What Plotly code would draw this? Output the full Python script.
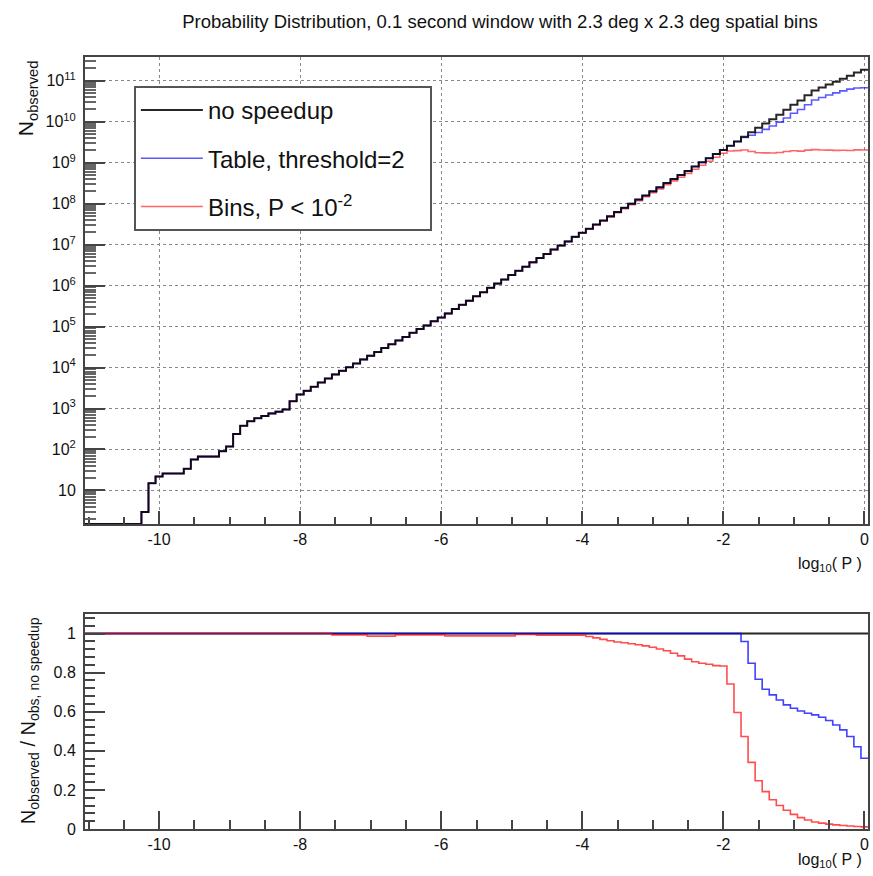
import numpy as np
import plotly.graph_objects as go

# ---------------- data ----------------
bin_width = 0.1
bin_centers = np.round(np.linspace(-11.0, 0.0, 111), 1)   # log10(P) bin centres

# N observed, "no speedup" (one value per bin, -11.0 ... 0.0)
no_speedup_counts = [
    0, 0, 0, 0, 0, 0, 0, 0,                      # -11.0 .. -10.3
    3, 15, 22, 26, 26, 26, 34, 57, 67, 67,        # -10.2 .. -9.3
    67, 91, 118, 240, 380, 490, 580, 660, 760, 840,   # -9.2 .. -8.3
    950, 1500, 2200, 2700, 3400, 4300,            # -8.2 .. -7.7
    5.4e3, 6.8e3, 8.3e3, 1.02e4, 1.26e4, 1.58e4, 1.95e4,            # -7.6 .. -7.0
    2.4e4, 3.0e4, 3.7e4, 4.6e4, 5.6e4, 7.1e4, 8.7e4, 1.07e5, 1.35e5, 1.66e5,   # -6.9 .. -6.0
    2.1e5, 2.7e5, 3.4e5, 4.3e5, 5.5e5, 6.9e5, 8.9e5, 1.12e6, 1.41e6, 1.82e6,   # -5.9 .. -5.0
    2.3e6, 2.9e6, 3.7e6, 4.7e6, 5.9e6, 7.6e6, 9.5e6, 1.2e7, 1.55e7, 1.95e7,    # -4.9 .. -4.0
    2.45e7, 3.1e7, 3.9e7, 4.9e7, 6.3e7, 7.9e7, 1.0e8, 1.26e8, 1.58e8, 2.0e8,   # -3.9 .. -3.0
    2.5e8, 3.2e8, 4.0e8, 5.0e8, 6.3e8, 8.1e8, 1.02e9, 1.29e9, 1.62e9, 2.04e9,  # -2.9 .. -2.0
    2.6e9, 3.3e9, 4.3e9, 5.5e9, 7.1e9, 9.1e9, 1.15e10, 1.48e10, 1.95e10, 2.6e10,   # -1.9 .. -1.0
    3.3e10, 4.4e10, 5.8e10, 6.8e10, 8.1e10, 9.5e10, 1.12e11, 1.32e11, 1.58e11, 1.86e11,  # -0.9 .. 0.0
]

# N observed / N obs, no speedup  -- "Table, threshold=2"
table_ratio = [1.0] * 93 + [                     # -11.0 .. -1.8
    0.959, 0.848, 0.766, 0.715, 0.686, 0.660, 0.635, 0.618, 0.604,   # -1.7 .. -0.9
    0.592, 0.584, 0.572, 0.555, 0.532, 0.507, 0.473, 0.421, 0.362,   # -0.8 .. 0.0
]

# N observed / N obs, no speedup  -- "Bins, P < 1e-2"
bins_ratio = (
    [1.0] * 35                                   # -11.0 .. -7.6
    + [0.993, 0.993, 0.993, 0.993, 0.993]        # -7.5 .. -7.1
    + [0.987, 0.987, 0.987, 0.987]               # -7.0 .. -6.7
    + [0.993, 0.993, 0.993, 0.993, 0.993, 0.993, 0.993]   # -6.6 .. -6.0
    + [0.988, 0.988, 0.988, 0.988, 0.988, 0.988, 0.988, 0.988, 0.988, 0.988]  # -5.9 .. -5.0
    + [0.995, 0.995, 0.995]                      # -4.9 .. -4.7
    + [0.992, 0.992, 0.992, 0.992, 0.992, 0.992, 0.992]   # -4.6 .. -4.0
    + [0.985, 0.978, 0.970, 0.963, 0.957, 0.953, 0.948, 0.943, 0.937, 0.930]  # -3.9 .. -3.0
    + [0.921, 0.912, 0.899, 0.886, 0.869, 0.856, 0.848, 0.843, 0.836, 0.834]  # -2.9 .. -2.0
    + [0.742, 0.596, 0.473, 0.341, 0.247, 0.191, 0.150, 0.120, 0.096, 0.075]  # -1.9 .. -1.0
    + [0.058, 0.046, 0.036, 0.030, 0.025, 0.021, 0.018, 0.015, 0.013, 0.011]  # -0.9 .. 0.0
)

series_names = ["no speedup", "Table, threshold=2&nbsp;&nbsp;&nbsp;", "Bins, P &lt; 10<sup>-2</sup>"]

x_tick_vals = [-10, -8, -6, -4, -2, 0]
x_tick_text = ["-10", "-8", "-6", "-4", "-2", "0"]
y_tick_vals = [1e1, 1e2, 1e3, 1e4, 1e5, 1e6, 1e7, 1e8, 1e9, 1e10, 1e11]
y_tick_text = ["10"] + ["10<sup>%d</sup>" % k for k in range(2, 12)]
r_tick_vals = [0, 0.2, 0.4, 0.6, 0.8, 1]
r_tick_text = ["0", "0.2", "0.4", "0.6", "0.8", "1"]

# ---------------- derived ----------------
black = np.array(no_speedup_counts, dtype=float)
table = black * np.array(table_ratio)
bins = black * np.array(bins_ratio)
unit_ratio = np.ones_like(black)

Y_LOG_RANGE = [0.18, 11.58]
X_RANGE = [bin_centers[0] - bin_width / 2, bin_centers[-1] + bin_width / 2]

edges = np.append(bin_centers - bin_width / 2, bin_centers[-1] + bin_width / 2)


def step(v):
    return np.append(v, v[-1])


def log_display(v):
    # empty bins are drawn on the bottom of the frame (ROOT style)
    return np.where(v > 0, v, 10 ** Y_LOG_RANGE[0])


FONT = "Liberation Sans, Arial, Helvetica, sans-serif"
C_BLACK = "rgba(0,0,0,0.85)"
C_BLUE = "rgba(0,0,255,0.65)"
C_RED = "rgba(255,0,0,0.6)"

fig = go.Figure()

# ---- top panel ----
fig.add_trace(go.Scatter(x=edges, y=step(log_display(bins)), mode="lines", line_shape="hv",
                         line=dict(color=C_RED, width=1.6), name=series_names[2],
                         legendgroup="c", legendrank=3, xaxis="x", yaxis="y"))
fig.add_trace(go.Scatter(x=edges, y=step(log_display(table)), mode="lines", line_shape="hv",
                         line=dict(color=C_BLUE, width=1.6), name=series_names[1],
                         legendgroup="b", legendrank=2, xaxis="x", yaxis="y"))
fig.add_trace(go.Scatter(x=edges, y=step(log_display(black)), mode="lines", line_shape="hv",
                         line=dict(color=C_BLACK, width=2), name=series_names[0],
                         legendgroup="a", legendrank=1, xaxis="x", yaxis="y"))

# ---- ratio panel ----
fig.add_trace(go.Scatter(x=edges, y=step(unit_ratio), mode="lines", line_shape="hv",
                         line=dict(color=C_BLACK, width=2), showlegend=False,
                         xaxis="x2", yaxis="y2"))
fig.add_trace(go.Scatter(x=edges, y=step(np.array(table_ratio)), mode="lines", line_shape="hv",
                         line=dict(color="rgba(0,0,255,0.75)", width=1.6), showlegend=False,
                         xaxis="x2", yaxis="y2"))
fig.add_trace(go.Scatter(x=edges, y=step(np.array(bins_ratio)), mode="lines", line_shape="hv",
                         line=dict(color="rgba(255,0,0,0.7)", width=1.6), showlegend=False,
                         xaxis="x2", yaxis="y2"))

axis_common = dict(showline=True, linecolor="#444", linewidth=2, mirror=True,
                   ticks="inside", tickcolor="#444", tickwidth=1.5, zeroline=False,
                   tickfont=dict(size=16, color="#111", family=FONT))

fig.update_layout(
    width=873, height=876,
    margin=dict(l=85, r=3, t=57, b=47),
    plot_bgcolor="white", paper_bgcolor="white",
    font=dict(family=FONT, size=16, color="#111"),
    title=dict(text="Probability Distribution, 0.1 second window with 2.3 deg x 2.3 deg spatial bins",
               x=500 / 873, xanchor="center", y=1 - 22 / 876, yanchor="middle",
               font=dict(size=18.5, family=FONT, color="#111")),
    xaxis=dict(domain=[0, 1], anchor="y", range=X_RANGE,
               tickmode="array", tickvals=x_tick_vals, ticktext=x_tick_text, ticklen=13,
               showgrid=True, gridcolor="#888", griddash="dot", gridwidth=1,
               minor=dict(tickmode="linear", tick0=0, dtick=0.5, ticks="inside", ticklen=7,
                          tickcolor="#444", tickwidth=1.5, showgrid=False),
               **axis_common),
    yaxis=dict(domain=[0.395, 1], anchor="x", type="log", range=Y_LOG_RANGE,
               tickmode="array", tickvals=y_tick_vals, ticktext=y_tick_text, ticklen=20,
               ticklabelstandoff=4,
               showgrid=True, gridcolor="#888", griddash="dot", gridwidth=1,
               minor=dict(tickmode="linear", dtick="D1", ticks="inside", ticklen=11,
                          tickcolor="#666", tickwidth=1.5, showgrid=False),
               **axis_common),
    xaxis2=dict(domain=[0, 1], anchor="y2", range=X_RANGE,
                tickmode="array", tickvals=x_tick_vals, ticktext=x_tick_text, ticklen=18,
                showgrid=False,
                minor=dict(tickmode="linear", tick0=0, dtick=0.5, ticks="inside", ticklen=9,
                           tickcolor="#444", tickwidth=1.5, showgrid=False),
                **axis_common),
    yaxis2=dict(domain=[0, 0.2785], anchor="x2", range=[0, 1.1],
                tickmode="array", tickvals=r_tick_vals, ticktext=r_tick_text, ticklen=20,
                ticklabelstandoff=4,
                showgrid=False,
                minor=dict(tickmode="linear", tick0=0, dtick=0.04, ticks="inside", ticklen=10,
                           tickcolor="#444", tickwidth=1.5, showgrid=False),
                **axis_common),
    showlegend=True,
    legend=dict(x=(134 - 85) / 785, y=(829 - 86) / 772, xanchor="left", yanchor="top",
                bgcolor="white", bordercolor="#555", borderwidth=2,
                font=dict(size=24, family=FONT, color="#111"),
                tracegroupgap=14, itemwidth=62, traceorder="grouped"),
    annotations=[
        dict(text="log<sub>10</sub>( P )", xref="paper", yref="paper",
             x=(866 - 85) / 785, y=(829 - 564) / 772, xanchor="right", yanchor="middle",
             showarrow=False, font=dict(size=16, family=FONT, color="#111")),
        dict(text="log<sub>10</sub>( P )", xref="paper", yref="paper",
             x=(866 - 85) / 785, y=(829 - 861) / 772, xanchor="right", yanchor="middle",
             showarrow=False, font=dict(size=16, family=FONT, color="#111")),
        dict(text="N<sub>observed</sub>", xref="paper", yref="paper", textangle=-90,
             x=(27 - 85) / 785, y=(829 - 58) / 772, xanchor="center", yanchor="top",
             showarrow=False, font=dict(size=21, family=FONT, color="#111")),
        dict(text="N<sub>observed</sub> / N<sub>obs, no speedup</sub>", xref="paper", yref="paper",
             textangle=-90, x=(29 - 85) / 785, y=(829 - 721) / 772, xanchor="center",
             yanchor="middle", showarrow=False, font=dict(size=20, family=FONT, color="#111")),
    ],
)

fig.write_html(
    "out.html",
    config={"displayModeBar": False},
    post_script="document.body.style.margin='0';document.body.style.padding='0';"
                "document.body.style.overflow='hidden';",
)
